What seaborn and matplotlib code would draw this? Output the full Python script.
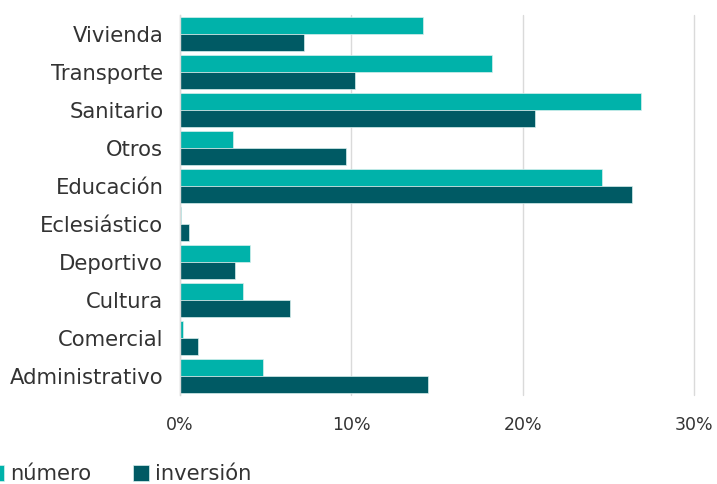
import matplotlib
matplotlib.use("Agg")
import matplotlib.pyplot as plt
import seaborn as sns
import pandas as pd

# Datos (porcentaje)
categorias = ["Vivienda", "Transporte", "Sanitario", "Otros", "Educación",
              "Eclesiástico", "Deportivo", "Cultura", "Comercial", "Administrativo"]
numero = [14.2, 18.2, 26.9, 3.1, 24.6, 0.05, 4.1, 3.7, 0.15, 4.85]
inversion = [7.25, 10.2, 20.7, 9.7, 26.35, 0.5, 3.2, 6.4, 1.05, 14.5]
series = ["número", "inversión"]
xticks = [0, 10, 20, 30]
xlabels = ["0%", "10%", "20%", "30%"]

colores = ["#00b2aa", "#005a64"]
texto = "#333333"
gris = "#dadada"

sns.set_theme(style="white")
plt.rcParams["font.family"] = ["DejaVu Sans"]

df = pd.DataFrame({
    "categoria": categorias * 2,
    "serie": [series[0]] * len(numero) + [series[1]] * len(inversion),
    "valor": numero + inversion,
})

fig, ax = plt.subplots(figsize=(7.17, 4.84), dpi=100)
fig.subplots_adjust(left=0.251, right=0.968, top=0.969, bottom=0.184)

sns.barplot(data=df, y="categoria", x="valor", hue="serie", order=categorias,
            hue_order=series, palette=colores, saturation=1, width=0.877,
            orient="h", edgecolor="#d8efed", linewidth=0.5, ax=ax)

ax.set_xlim(0, 30)
ax.set_ylim(9.5, -0.5)
ax.set_xticks(xticks)
ax.set_xticklabels(xlabels)
ax.set_xlabel("")
ax.set_ylabel("")

ax.xaxis.grid(True, color=gris, linewidth=1)
for linea in ax.get_xgridlines():
    linea.set_clip_on(False)
ax.set_axisbelow(True)
for lado in ["top", "right", "bottom"]:
    ax.spines[lado].set_visible(False)
ax.spines["left"].set_color(gris)
ax.spines["left"].set_linewidth(1)

ax.tick_params(axis="y", length=0, pad=12, labelsize=15.2, labelcolor=texto)
ax.tick_params(axis="x", length=0, pad=15, labelsize=12.5, labelcolor=texto)

# Leyenda abajo a la izquierda
handles, labels = ax.get_legend_handles_labels()
ax.get_legend().remove()
leg = fig.legend(handles, labels, loc="lower left", bbox_to_anchor=(-0.02, -0.005),
                 ncol=2, frameon=False, fontsize=15.2, handlelength=0.75,
                 handleheight=0.75, handletextpad=0.3, columnspacing=2.0,
                 borderpad=0.1, borderaxespad=0)
for t in leg.get_texts():
    t.set_color(texto)

fig.savefig("out.png", dpi=100)
